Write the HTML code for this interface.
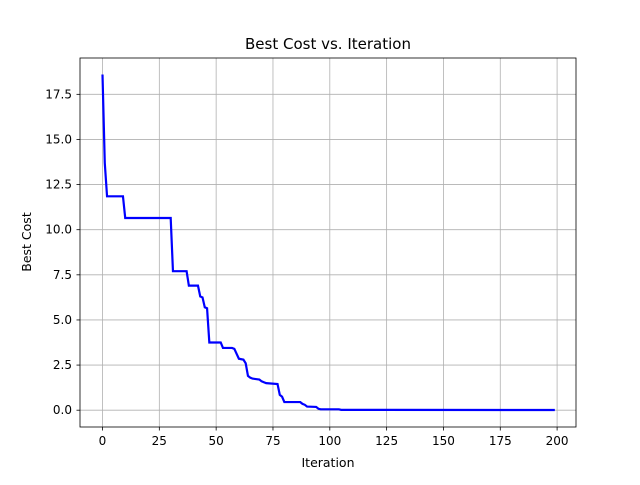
<!DOCTYPE html>
<html><head><meta charset="utf-8"><style>
body{margin:0;background:#fff;}
text{font-family:"DejaVu Sans","Liberation Sans",sans-serif;fill:#000;}
</style></head><body>
<svg id="chart" width="640" height="480">
<rect x="0" y="0" width="640" height="480" fill="#fff"/>
<g id="grid"></g>
<g id="ticks"></g>
<path id="line" fill="none" stroke="#0000ff" stroke-width="2.2"/>
<rect x="80" y="58" width="496" height="369" fill="none" stroke="#000" stroke-width="0.8"/>
<text x="328" y="49" font-size="15" text-anchor="middle">Best Cost vs. Iteration</text>
<text x="328" y="467" font-size="12.5" text-anchor="middle">Iteration</text>
<text x="0" y="0" font-size="12.5" text-anchor="middle" transform="translate(31,242) rotate(-90)">Best Cost</text>
</svg>
<script>
const iters=[0,1,2,9,10,30,31,37,38,42,43,44,45,46,47,52,53,57,58,60,62,63,64,65,66,69,70,71,72,77,78,79,80,87,88,89,90,94,95,96,104,105,199];
const costs=[18.6,13.7,11.85,11.85,10.65,10.65,7.7,7.7,6.9,6.9,6.3,6.25,5.7,5.65,3.75,3.75,3.45,3.45,3.4,2.85,2.8,2.6,1.9,1.8,1.75,1.7,1.6,1.55,1.5,1.45,0.85,0.75,0.45,0.45,0.35,0.3,0.2,0.18,0.08,0.05,0.05,0.02,0.01];
const xTicks=[0,25,50,75,100,125,150,175,200];
const yTicks=[0,2.5,5,7.5,10,12.5,15,17.5];
const yLabels=["0.0","2.5","5.0","7.5","10.0","12.5","15.0","17.5"];
function sx(v){return 102.5+v*2.273;}
function sy(v){return 410.2-v*18.05;}
const NS="http://www.w3.org/2000/svg";
const grid=document.getElementById('grid'),ticks=document.getElementById('ticks');
function mk(tag,attrs,parent){const e=document.createElementNS(NS,tag);for(const k in attrs)e.setAttribute(k,attrs[k]);parent.appendChild(e);return e;}
xTicks.forEach(t=>{
 const x=sx(t);
 const g=mk('line',{x1:x,x2:x,y1:58,y2:427,stroke:'#b0b0b0','stroke-width':0.8},grid);
 
 
 const tk=mk('line',{x1:x,x2:x,y1:427,y2:430.5,stroke:'#000','stroke-width':0.8},ticks);
 
 
 const tx=mk('text',{x:x,y:445,'font-size':12,'text-anchor':'middle'},ticks);
 tx.textContent=t;
 
 
});
yTicks.forEach((t,i)=>{
 const y=sy(t);
 const g=mk('line',{x1:80,x2:576,y1:y,y2:y,stroke:'#b0b0b0','stroke-width':0.8},grid);
 
 
 const tk=mk('line',{x1:76.5,x2:80,y1:y,y2:y,stroke:'#000','stroke-width':0.8},ticks);
 
 
 const tx=mk('text',{x:72,y:y+4,'font-size':12,'text-anchor':'end'},ticks);
 tx.textContent=yLabels[i];
 
 
});
document.getElementById('line').setAttribute('d',iters.map((v,i)=>(i?'L':'M')+sx(v).toFixed(2)+','+sy(costs[i]).toFixed(2)).join(' '));
</script>
</body></html>
